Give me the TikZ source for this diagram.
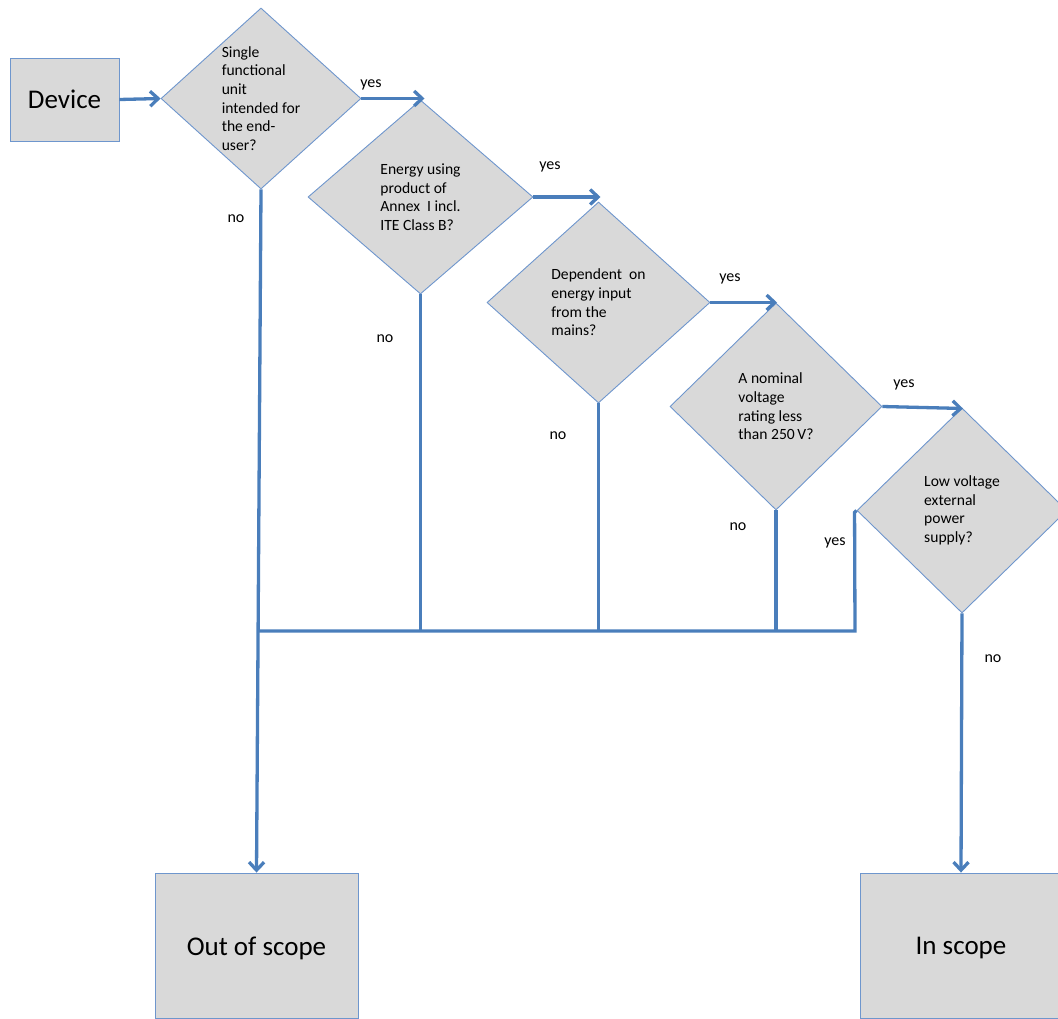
\documentclass[tikz,border=0pt]{standalone}
\usepackage{fontspec}
\setmainfont{Carlito}
\usetikzlibrary{shapes.geometric,arrows.meta,calc}
\definecolor{lnblue}{RGB}{74,126,187}
\definecolor{bdblue}{RGB}{110,150,205}
\definecolor{boxgray}{RGB}{217,217,217}
\begin{document}
\begin{tikzpicture}[x=1pt,y=-1pt,
  box/.style={draw=bdblue,line width=0.9pt,fill=boxgray,rectangle,inner sep=0pt,
    font=\fontsize{27}{32}\selectfont},
  dec/.style={draw=bdblue,line width=0.9pt,fill=boxgray,diamond,inner sep=0pt,shape aspect=1},
  qtext/.style={align=left,inner sep=0pt,font=\fontsize{15.6}{18.6}\selectfont},
  lbl/.style={anchor=base,inner sep=0pt,font=\fontsize{16}{18}\selectfont},
  conn/.style={draw=lnblue,line width=3.3pt},
  arr/.style={conn,-{Straight Barb[length=8pt,width=15pt]}}
]
\useasboundingbox (0,0) rectangle (1058,1019);

% boxes
\node[box,minimum width=109pt,minimum height=83pt] (dev) at (64.5,99.5) {Device};
\node[box,minimum width=203pt,minimum height=145pt] (out) at (256.5,945.5) {\raisebox{-3pt}[\height][\depth]{Out of scope}};
\node[box,minimum width=202pt,minimum height=145pt] (in) at (961,945.5) {\raisebox{-3pt}[\height][\depth]{In scope}};

% decisions
\node[dec,minimum width=200pt,minimum height=181pt] (d1) at (261,98.5) {};
\node[dec,minimum width=225pt,minimum height=194pt] (d2) at (420.5,197) {};
\node[dec,minimum width=223pt,minimum height=201pt] (d3) at (598.5,302.5) {};
\node[dec,minimum width=212pt,minimum height=207pt] (d4) at (776,406.5) {};
\node[dec,minimum width=210pt,minimum height=205pt] (d5) at (962,510.5) {};

\node[qtext] (d1t) at (d1) {Single\\functional\\unit\\intended for\\the end-\\user?};
\node[qtext] (d2t) at (d2) {Energy using\\product of\\Annex\ \ I incl.\\ITE Class B?};
\node[qtext] (d3t) at (d3) {Dependent\ \ on\\energy input\\from the\\mains?};
\node[qtext] (d4t) at (d4) {A nominal\\voltage\\rating less\\than 250\,V?};
\node[qtext] (d5t) at (d5) {Low voltage\\external\\power\\supply?};

% bus coordinates
\coordinate (busL) at (259,631);
\coordinate (busR) at (855,631);

% connectors
\draw[arr] (dev.east) -- (d1.west);
\draw[arr] (d1.east) -- ($(d1.east -| d2.north)+(4,0)$);
\draw[arr] (d2.east) -- ($(d2.east -| d3.north)+(2,0)$);
\draw[arr] (d3.east) -- ($(d3.east -| d4.north)+(1,0)$);
\draw[arr] (d4.east) -- ($(d4.east -| d5.north)+(1,2)$);

\draw[conn] (d2.south) -- (d2.south |- busL);
\draw[conn] (d3.south) -- (d3.south |- busL);
\draw[conn] (d4.south) -- (d4.south |- busL);
\draw[conn,line join=miter] (d5.west) -- ++(-2,2) -- (busR) -- (busL);
\draw[arr] (d1.south) -- (out.north);
\draw[arr] (d5.south) -- (in.north);

% labels
\node[lbl] (y1) at (371,88) {yes};
\node[lbl] (n1) at (236,223) {no};
\node[lbl] (y2) at (550,170) {yes};
\node[lbl] (n2) at (385,342) {no};
\node[lbl] (y3) at (730,281) {yes};
\node[lbl] (n3) at (558,439) {no};
\node[lbl] (y4) at (904,387) {yes};
\node[lbl] (n4) at (738,530) {no};
\node[lbl] (y5) at (835,545) {yes};
\node[lbl] (n5) at (993,662) {no};
\end{tikzpicture}
\end{document}
